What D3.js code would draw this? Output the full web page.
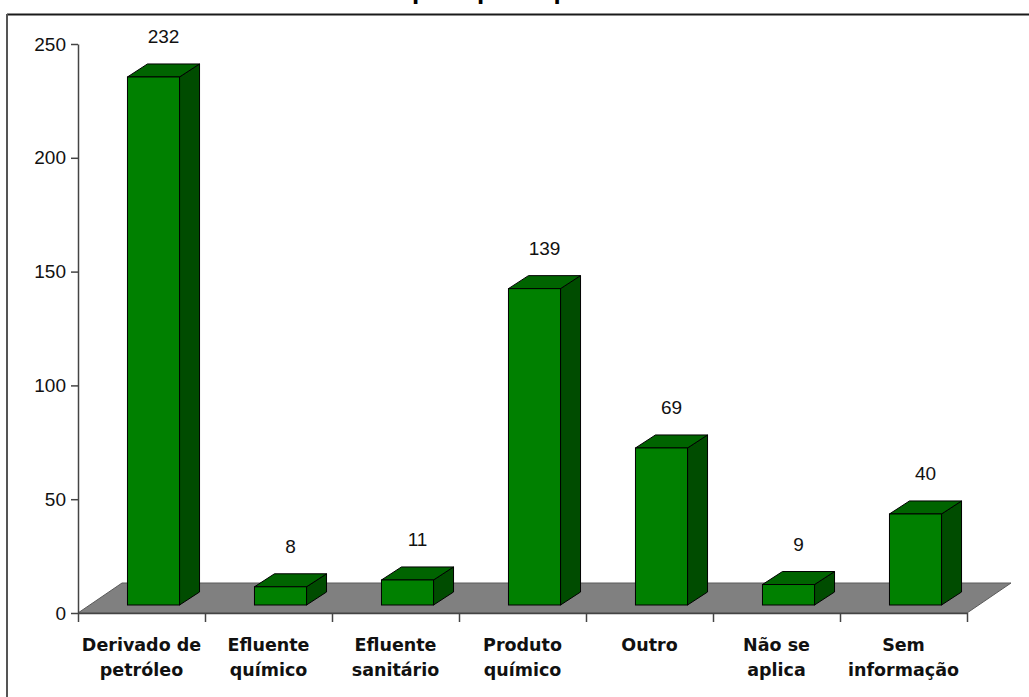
<!DOCTYPE html>
<html>
<head>
<meta charset="utf-8">
<script src="https://cdn.jsdelivr.net/npm/d3@7"></script>
<style>
  html, body { margin: 0; padding: 0; background: #fff; }
  svg { display: block; }
</style>
</head>
<body>
<svg id="chart" width="1029" height="697"></svg>
<script>
// Product categories (two-line labels) and counts
const categories = ["Derivado de petróleo", "Efluente químico", "Efluente sanitário",
                    "Produto químico", "Outro", "Não se aplica", "Sem informação"];
const labelLines = [["Derivado de", "petróleo"], ["Efluente", "químico"], ["Efluente", "sanitário"],
                    ["Produto", "químico"], ["Outro"], ["Não se", "aplica"], ["Sem", "informação"]];
const values = [232, 8, 11, 139, 69, 9, 40];
const yTicks = [0, 50, 100, 150, 200, 250];
const titleText = "Acidentes por tipo de produto";

const svg = d3.select("#chart");
const W = 1029, H = 697;

// plot geometry
const left = 78, right = 967, y0 = 613, yTop = 44;
const floorDx = 44, floorDy = -30;   // depth of the grey floor
const barOffX = 12, barOffY = -8;    // front face placed inside the floor depth
const barDx = 20, barDy = -13;       // bar depth

const y = d3.scaleLinear().domain([0, 250]).range([y0, yTop]);
const x = d3.scaleBand().domain(categories).range([left, right])
  .paddingInner(0.59).paddingOuter(0.295);
const xb = d3.scaleLinear().domain([0, categories.length]).range([left, right]);

// title (runs off the top edge)
const title = svg.append("text")
  .attr("y", -1.5)
  .attr("font-family", "'Liberation Sans', Arial, sans-serif")
  .attr("font-weight", "bold")
  .attr("font-size", 26)
  .attr("fill", "#000")
  .text(titleText);
const prefix = titleText.indexOf("por");
const pre = title.node().getSubStringLength(0, prefix);
title.attr("x", 412 - pre);

// frame
svg.append("line").attr("x1", 7).attr("x2", W).attr("y1", 14.5).attr("y2", 14.5)
  .attr("stroke", "#1a1a1a").attr("stroke-width", 2);
svg.append("line").attr("x1", 7).attr("x2", 7).attr("y1", 14).attr("y2", H)
  .attr("stroke", "#555").attr("stroke-width", 2);

// floor
svg.append("path")
  .attr("d", d3.line()([[left, y0], [left + floorDx, y0 + floorDy],
                        [right + floorDx, y0 + floorDy], [right, y0]]) + "Z")
  .attr("fill", "#808080").attr("stroke", "#5a5a5a").attr("stroke-width", 1);

// bars
const bars = svg.append("g").selectAll("g").data(categories).join("g");
bars.each(function (c, i) {
  const g = d3.select(this);
  const bx = x(c) + barOffX, bw = x.bandwidth();
  const base = y(0) + barOffY, top = y(values[i]) + barOffY;
  // side
  g.append("path")
    .attr("d", d3.line()([[bx + bw, base], [bx + bw + barDx, base + barDy],
                          [bx + bw + barDx, top + barDy], [bx + bw, top]]) + "Z")
    .attr("fill", "#004c00").attr("stroke", "#000").attr("stroke-width", 1)
    .attr("stroke-linejoin", "round");
  // top
  g.append("path")
    .attr("d", d3.line()([[bx, top], [bx + barDx, top + barDy],
                          [bx + bw + barDx, top + barDy], [bx + bw, top]]) + "Z")
    .attr("fill", "#006400").attr("stroke", "#000").attr("stroke-width", 1)
    .attr("stroke-linejoin", "round");
  // front
  g.append("rect")
    .attr("x", bx).attr("y", top).attr("width", bw).attr("height", base - top)
    .attr("fill", "#008000").attr("stroke", "#000").attr("stroke-width", 1);
  // value label
  g.append("text")
    .attr("x", bx + bw / 2 + barDx / 2)
    .attr("y", top + barDy - 21)
    .attr("text-anchor", "middle")
    .attr("font-family", "'Liberation Sans', Arial, sans-serif")
    .attr("font-size", 19)
    .attr("fill", "#111")
    .text(values[i]);
});

// y axis
const yAxis = svg.append("g").attr("transform", `translate(${left},0)`)
  .call(d3.axisLeft(y).tickValues(yTicks).tickSize(7).tickSizeOuter(0).tickPadding(5));
yAxis.select(".domain").attr("stroke", "#444").attr("stroke-width", 1.5);
yAxis.selectAll(".tick line").attr("stroke", "#444").attr("stroke-width", 1.5);
yAxis.selectAll(".tick text")
  .attr("font-family", "'Liberation Sans', Arial, sans-serif")
  .attr("font-size", 19).attr("fill", "#111");

// x axis (ticks at category boundaries)
const xAxis = svg.append("g").attr("transform", `translate(0,${y0})`)
  .call(d3.axisBottom(xb).tickValues(d3.range(categories.length + 1))
    .tickSize(9).tickSizeOuter(0).tickFormat(""));
xAxis.select(".domain").attr("stroke", "#444").attr("stroke-width", 1.5);
xAxis.selectAll(".tick line").attr("stroke", "#444").attr("stroke-width", 1.5);

// category labels
const cl = svg.append("g").selectAll("text").data(categories).join("text")
  .attr("x", c => x(c) + x.bandwidth() / 2)
  .attr("y", 651)
  .attr("text-anchor", "middle")
  .attr("font-family", "'DejaVu Sans', Verdana, sans-serif")
  .attr("font-weight", "bold")
  .attr("font-size", 17.5)
  .attr("fill", "#111");
cl.each(function (c, i) {
  d3.select(this).selectAll("tspan").data(labelLines[i]).join("tspan")
    .attr("x", x(c) + x.bandwidth() / 2)
    .attr("dy", (d, j) => j === 0 ? 0 : 25)
    .text(d => d);
});
</script>
</body>
</html>
